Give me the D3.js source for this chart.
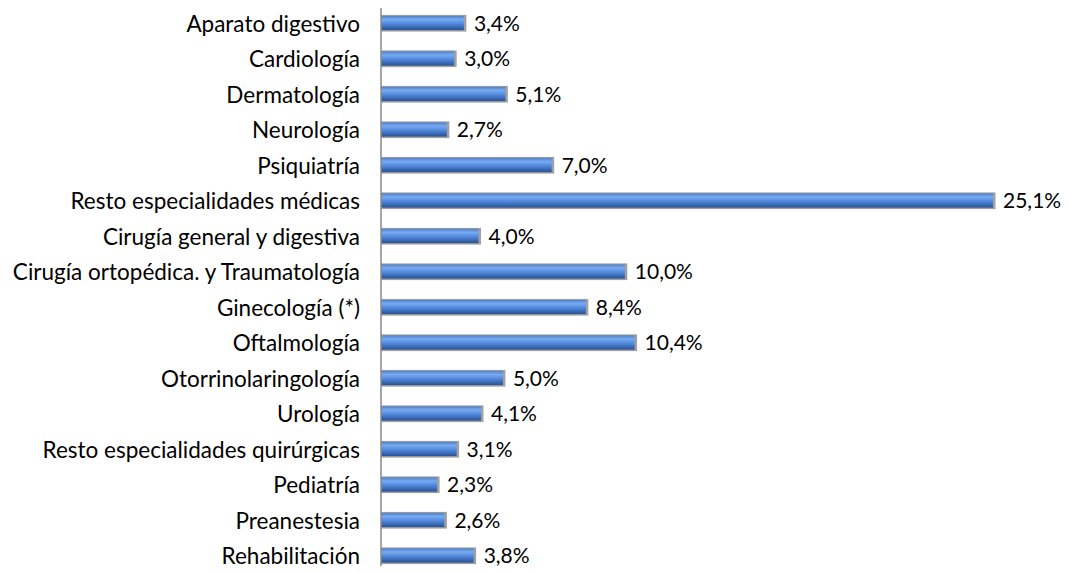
<!DOCTYPE html>
<html><head><meta charset="utf-8">
<script src="https://cdn.jsdelivr.net/npm/d3@7"></script>
<style>body{margin:0;background:#fff}</style>
</head><body>
<svg id="c" width="1068" height="574"></svg>
<script>
const categories = ["Aparato digestivo","Cardiología","Dermatología","Neurología","Psiquiatría","Resto especialidades médicas","Cirugía general y digestiva","Cirugía ortopédica. y Traumatología","Ginecología (*)","Oftalmología","Otorrinolaringología","Urología","Resto especialidades quirúrgicas","Pediatría","Preanestesia","Rehabilitación"];
const values = [3.4,3.0,5.1,2.7,7.0,25.1,4.0,10.0,8.4,10.4,5.0,4.1,3.1,2.3,2.6,3.8];
const valueLabels = ["3,4%","3,0%","5,1%","2,7%","7,0%","25,1%","4,0%","10,0%","8,4%","10,4%","5,0%","4,1%","3,1%","2,3%","2,6%","3,8%"];

const svg = d3.select("#c");
const x0 = 381;
const x = d3.scaleLinear().domain([0, 25.1]).range([x0, 993]);
const y = d3.scaleBand().domain(categories).range([5.25, 573.25]).paddingInner(0.6).paddingOuter(0.3);
const font = "Lato, sans-serif";

const defs = svg.append("defs");
const g = defs.append("linearGradient").attr("id","bg").attr("x1",0).attr("y1",0).attr("x2",0).attr("y2",1);
[["0%","#4f80c8"],["25%","#78aaf2"],["45%","#5e95e6"],["75%","#3e70bf"],["100%","#2a5290"]]
  .forEach(([o,c]) => g.append("stop").attr("offset",o).attr("stop-color",c));

svg.selectAll("rect.sh").data(categories).join("rect")
  .attr("x", x0).attr("y", d => y(d) - 1)
  .attr("width", (d,i) => x(values[i]) - x0 + 2.5)
  .attr("height", y.bandwidth() + 2.5)
  .attr("fill", "#a0a0a0");
svg.selectAll("rect.bar").data(categories).join("rect")
  .attr("x", x0).attr("y", d => y(d))
  .attr("width", (d,i) => x(values[i]) - x0)
  .attr("height", y.bandwidth())
  .attr("fill", "url(#bg)");

svg.append("line").attr("x1", x0).attr("x2", x0).attr("y1", 8).attr("y2", 566)
  .attr("stroke", "#888").attr("stroke-width", 1.5);

svg.selectAll("text.cat").data(categories).join("text")
  .attr("x", 360).attr("y", d => y(d) + y.bandwidth()/2)
  .attr("text-anchor","end").attr("dominant-baseline","central")
  .attr("font-family", font).attr("font-size", 22.5).attr("fill","#000")
  .text(d => d);

svg.selectAll("text.val").data(categories).join("text")
  .attr("x", (d,i) => x(values[i]) + 10).attr("y", d => y(d) + y.bandwidth()/2 - 1)
  .attr("dominant-baseline","central")
  .attr("font-family", font).attr("font-size", 21).attr("fill","#000")
  .text((d,i) => valueLabels[i]);
</script>
</body></html>
